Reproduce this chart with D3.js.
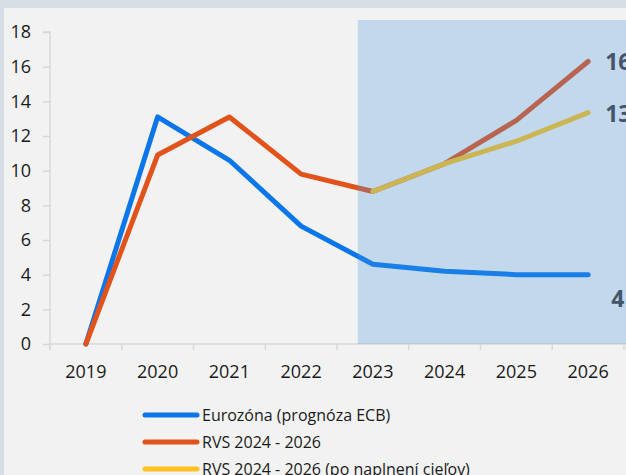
<!DOCTYPE html>
<html><head><meta charset="utf-8">
<script src="https://cdn.jsdelivr.net/npm/d3@7"></script>
<style>
html,body{margin:0;padding:0;background:#d6dde5;overflow:hidden}
svg{display:block}
</style></head>
<body>
<svg id="c" width="626" height="475"></svg>
<script>
const years = ["2019","2020","2021","2022","2023","2024","2025","2026"];
const eurozona = [0, 13.1, 10.6, 6.8, 4.6, 4.2, 4.0, 4.0];
const rvs = [0, 10.9, 13.1, 9.8, 8.8, 10.4, 12.9, 16.3];
const rvsCiele = [null, null, null, null, 8.8, 10.4, 11.7, 13.35];
const yTicks = [0, 2, 4, 6, 8, 10, 12, 14, 16, 18];
const seriesNames = ["Eurozóna (prognóza ECB)", "RVS 2024 - 2026", "RVS 2024 - 2026 (po naplnení cieľov)"];
const seriesColors = ["#0a76ea", "#e2531c", "#ffc21f"];
const endLabels = [{text:"16", v:16.3, dx:17, dy:9}, {text:"13", v:13.35, dx:17, dy:9}, {text:"4", v:4.0, dx:23, dy:32}];
const shadeFrom = "2023";

const W = 626, H = 475;
const svg = d3.select("#c");
const font = "'Open Sans', 'Liberation Sans', sans-serif";

svg.append("rect").attr("x",4).attr("y",8).attr("width",W-4).attr("height",H-8).attr("fill","#f2f2f2");

const x = d3.scaleBand().domain(years).range([50, 624]).padding(0);
const y = d3.scaleLinear().domain([0, 18]).range([344, 32]);
const cx = d => x(d) + x.bandwidth()/2;

// y axis
const gy = svg.append("g").attr("transform","translate(50,0)")
  .call(d3.axisLeft(y).tickValues(yTicks).tickSize(7).tickPadding(12).tickFormat(d3.format("d")));
gy.select(".domain").attr("stroke","#d9d9d9").attr("stroke-width",1.5).attr("d", `M-7,${y(18)}H0V${y(0)+6}`);
gy.selectAll(".tick line").attr("stroke","#d9d9d9").attr("stroke-width",1.5);
gy.selectAll(".tick text").attr("font-family",font).attr("font-size","18px").attr("fill","#1a1a1a");

// x axis
const gx = svg.append("g").attr("transform",`translate(0,${y(0)})`);
gx.append("line").attr("x1",48).attr("x2",W).attr("y1",0).attr("y2",0).attr("stroke","#d9d9d9").attr("stroke-width",1.5);
gx.selectAll(".xt").data(years.concat(["end"])).enter().append("line")
  .attr("x1",(d,i)=> i<years.length ? x(d) : x(years[years.length-1])+x.bandwidth())
  .attr("x2",(d,i)=> i<years.length ? x(d) : x(years[years.length-1])+x.bandwidth())
  .attr("y1",0).attr("y2",6).attr("stroke","#d9d9d9").attr("stroke-width",1.5);
gx.selectAll(".xl").data(years).enter().append("text")
  .attr("x",d=>cx(d)).attr("y",34).attr("text-anchor","middle")
  .attr("font-family",font).attr("font-size","18px").attr("fill","#1a1a1a").text(d=>d);

// lines
const line = d3.line().defined(d=>d[1]!==null).x(d=>cx(d[0])).y(d=>y(d[1]));
[eurozona, rvs, rvsCiele].forEach((arr,i)=>{
  svg.append("path").datum(years.map((yr,j)=>[yr, arr[j]]))
    .attr("d", line).attr("fill","none").attr("stroke",seriesColors[i])
    .attr("stroke-width",5).attr("stroke-linecap","round").attr("stroke-linejoin","round");
});

// shaded forecast region (translucent overlay)
const sx = cx(shadeFrom) - 0.21*x.bandwidth();
svg.append("rect").attr("x",sx).attr("y",y(18)-12).attr("width",W-sx).attr("height",y(0)-y(18)+12)
  .attr("fill","#4492e0").attr("fill-opacity",0.27);

// end labels
svg.selectAll(".el").data(endLabels).enter().append("text")
  .attr("x",d=>cx(years[years.length-1])+d.dx).attr("y",d=>y(d.v)+d.dy)
  .attr("font-family",font).attr("font-weight","bold").attr("font-size","23px").attr("fill","#44546a")
  .text(d=>d.text);

// legend
const lg = svg.append("g");
seriesNames.forEach((n,i)=>{
  const ly = 415 + i*27;
  lg.append("line").attr("x1",145).attr("x2",197).attr("y1",ly).attr("y2",ly)
    .attr("stroke",seriesColors[i]).attr("stroke-width",5).attr("stroke-linecap","round");
  lg.append("text").attr("x",202).attr("y",ly+6).attr("font-family",font).attr("font-size","16px")
    .attr("fill","#1a1a1a").text(n);
});
</script>
</body></html>
